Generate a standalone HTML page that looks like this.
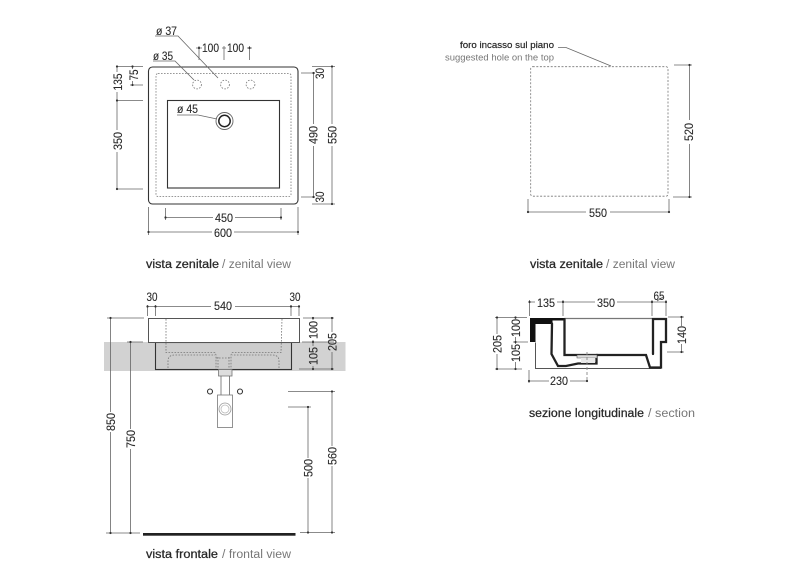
<!DOCTYPE html>
<html><head><meta charset="utf-8"><style>
html,body{margin:0;padding:0;background:#fff}
svg{display:block}
text{font-family:"Liberation Sans",sans-serif;font-size:12px;fill:#2a2a2a;text-anchor:middle;stroke:#2a2a2a;stroke-width:.12}
.b{text-anchor:start;stroke:#222;stroke-width:.25;font-size:11.5px}
.g{text-anchor:start;fill:#777;stroke:none;font-size:11.5px}
.d{fill:none;stroke:#666;stroke-width:.8}
.p{fill:none;stroke:#222;stroke-width:2.3;stroke-linecap:round}
.o{fill:none;stroke:#333;stroke-width:1.1}
.t{fill:none;stroke:#777;stroke-width:.8;stroke-dasharray:1.6 1.4}
</style></head><body>
<svg width="800" height="588" viewBox="0 0 800 588" xmlns="http://www.w3.org/2000/svg">
<rect width="800" height="588" fill="#fff"/>

<!-- top-left view -->
<rect x="148.5" y="67" width="149.5" height="137" rx="4" fill="#fff" stroke="#333" stroke-width="1.1"/>
<rect x="156" y="73.5" width="135" height="123" rx="2" class="t" stroke-dasharray="2.4 1.8"/>
<rect x="167.5" y="100.5" width="112" height="87.5" fill="#fff" stroke="#333" stroke-width="1.1"/>
<circle cx="224.5" cy="121" r="8.5" fill="#fff" stroke="#666" stroke-width=".9"/>
<circle cx="224.5" cy="121" r="5.7" fill="#fff" stroke="#222" stroke-width="1.5"/>
<circle cx="197" cy="84.5" r="4.4" class="t"/><circle cx="225" cy="84.5" r="4.4" class="t"/><circle cx="250.5" cy="84.5" r="4.4" class="t"/>
<path class="d" d="M155 36H178L218 78M153 61H175L194 80M177 115H198L217 119M199 46V60M224 46V60M249.500 46V60M196 48H202M222 48H226M247 48H252"/>
<path class="d" d="M116 66.500H143M116 100.500H143M116 189H143M130 66.500H143M130 85H143M117 66.500V72M117 92V100.500V130M117 152V189M132.500 66.500V69M132.500 81V85"/>
<path class="d" d="M312 66.500H335M312 204H335M301 73H315M301 197H315M332 66.500V124M332 146V204M313.500 73V124M313.500 146V197"/>
<path class="d" d="M165.500 208V220M281 208V220M165.500 217.500H213M235 217.500H281M148.500 207V235M298 207V235M148.500 232H212M234 232H298"/>
<text x="166.500" y="35" textLength="21" lengthAdjust="spacingAndGlyphs">ø 37</text>
<text x="163" y="60" textLength="20" lengthAdjust="spacingAndGlyphs">ø 35</text>
<text x="187.500" y="113" textLength="21" lengthAdjust="spacingAndGlyphs">ø 45</text>
<text x="210.500" y="52" textLength="17" lengthAdjust="spacingAndGlyphs">100</text>
<text x="235.500" y="52" textLength="17" lengthAdjust="spacingAndGlyphs">100</text>
<text transform="translate(122,82) rotate(-90)" textLength="17" lengthAdjust="spacingAndGlyphs">135</text>
<text transform="translate(138,75) rotate(-90)" textLength="11" lengthAdjust="spacingAndGlyphs">75</text>
<text transform="translate(122,141) rotate(-90)" textLength="18" lengthAdjust="spacingAndGlyphs">350</text>
<text transform="translate(324,73.500) rotate(-90)" textLength="11" lengthAdjust="spacingAndGlyphs">30</text>
<text transform="translate(324,197) rotate(-90)" textLength="11" lengthAdjust="spacingAndGlyphs">30</text>
<text transform="translate(317.500,135) rotate(-90)" textLength="18" lengthAdjust="spacingAndGlyphs">490</text>
<text transform="translate(336.500,135) rotate(-90)" textLength="18" lengthAdjust="spacingAndGlyphs">550</text>
<text x="224" y="222" textLength="18" lengthAdjust="spacingAndGlyphs">450</text>
<text x="223" y="237" textLength="18" lengthAdjust="spacingAndGlyphs">600</text>
<text x="146" y="268" class="b" textLength="73" lengthAdjust="spacingAndGlyphs">vista zenitale</text>
<text x="222" y="268" class="g" textLength="69" lengthAdjust="spacingAndGlyphs">/ zenital view</text>

<!-- top-right view -->
<rect x="530.700" y="66.700" width="137.300" height="129.500" rx="2" fill="none" stroke="#777" stroke-width=".8" stroke-dasharray="2 1.6"/>
<path class="d" d="M558 47.500H566L611 66M674 65H692M673 197H692M689.500 65V120M689.500 144V197M528 199V213M669 199V213M528 212H586M610 212H670"/>
<text x="554" y="48" style="text-anchor:end;font-size:9.500px;stroke:#222;stroke-width:.2" textLength="94" lengthAdjust="spacingAndGlyphs">foro incasso sul piano</text>
<text x="554" y="60.500" style="text-anchor:end;font-size:9.500px;fill:#777;stroke:none" textLength="109" lengthAdjust="spacingAndGlyphs">suggested hole on the top</text>
<text transform="translate(693,132) rotate(-90)" textLength="18" lengthAdjust="spacingAndGlyphs">520</text>
<text x="598" y="217" textLength="18" lengthAdjust="spacingAndGlyphs">550</text>
<text x="530" y="268" class="b" textLength="73" lengthAdjust="spacingAndGlyphs">vista zenitale</text>
<text x="606" y="268" class="g" textLength="69" lengthAdjust="spacingAndGlyphs">/ zenital view</text>

<!-- frontal view -->
<rect x="104" y="342" width="241.500" height="29" fill="#d2d2d2"/>
<rect x="155.500" y="342.500" width="136" height="27" fill="#cdcdcd" stroke="#333" stroke-width="1.1"/>
<rect x="148.500" y="318.500" width="151" height="24" fill="#fff" stroke="#555" stroke-width="1"/>
<path class="t" d="M166 319V352.500H215L216 355V369M282 319L281 352.500H232L231 355V369M168 368V361Q168 355 175 355H215M279 368V361Q279 355 272 355H232M216 358H231M218 357V368M229 357V368"/>
<rect x="218.500" y="369.500" width="13.500" height="6.500" fill="#ddd" stroke="#777" stroke-width=".8"/>
<path d="M221 376V395M229.500 376V395" class="d"/>
<rect x="217.500" y="395" width="15" height="32.500" fill="#fff" stroke="#777" stroke-width=".8"/>
<circle cx="225" cy="409" r="6" fill="none" stroke="#999" stroke-width=".8"/><circle cx="225" cy="409" r="4" fill="none" stroke="#bbb" stroke-width=".8"/>
<circle cx="210" cy="391.500" r="2.500" class="o"/><circle cx="240" cy="391.500" r="2.500" class="o"/>
<rect x="143" y="533" width="152.500" height="2.700" fill="#222"/>
<path class="d" d="M147.500 305V316M155.500 305V316M291 305V316M299 305V316M147.500 306.500H155.500M156 306.500H211M235 306.500H291M291 306.500H299"/>
<path class="d" d="M107 318H144M127 342H143M106 533H140M110.500 318V412M110.500 432V533M130.500 342V429M130.500 449V533"/>
<path class="d" d="M303 318H334M302 342H334M299 369H334M332 318V332M332 352V369M313 318V320M313 340V346M313 366V369M288 391.500H335M288 407H311M300 532.500H335M332 391.500V446M332 466V532.500M308 407V458M308 478V532.500"/>
<text x="152" y="301" textLength="11" lengthAdjust="spacingAndGlyphs">30</text>
<text x="223" y="310" textLength="18" lengthAdjust="spacingAndGlyphs">540</text>
<text x="295" y="301" textLength="11" lengthAdjust="spacingAndGlyphs">30</text>
<text transform="translate(115,422) rotate(-90)" textLength="18" lengthAdjust="spacingAndGlyphs">850</text>
<text transform="translate(135,439) rotate(-90)" textLength="18" lengthAdjust="spacingAndGlyphs">750</text>
<text transform="translate(317.500,330) rotate(-90)" textLength="18" lengthAdjust="spacingAndGlyphs">100</text>
<text transform="translate(317.500,356) rotate(-90)" textLength="18" lengthAdjust="spacingAndGlyphs">105</text>
<text transform="translate(336.500,342) rotate(-90)" textLength="18" lengthAdjust="spacingAndGlyphs">205</text>
<text transform="translate(312.500,468) rotate(-90)" textLength="18" lengthAdjust="spacingAndGlyphs">500</text>
<text transform="translate(336.500,456) rotate(-90)" textLength="18" lengthAdjust="spacingAndGlyphs">560</text>
<text x="146" y="558" class="b" textLength="72" lengthAdjust="spacingAndGlyphs">vista frontale</text>
<text x="222" y="558" class="g" textLength="69" lengthAdjust="spacingAndGlyphs">/ frontal view</text>

<!-- section -->
<path d="M535.500 342.500V368.500H661" fill="none" stroke="#555" stroke-width="1"/>
<path d="M565 318.500H652" fill="none" stroke="#777" stroke-width="1.2"/>
<path d="M530 318H565V320.500H552.500V324H535.500V342H530Z" fill="#111"/>
<path class="p" d="M552 323.500L551.500 354L558 366H566L578 363.500H596.500V355H564.500V319"/>
<path class="p" d="M596.500 355H646L650 367.500H661V342H666V319H653V354"/>
<path d="M577 355H597V358H577Z" fill="#ddd" stroke="#555" stroke-width=".6"/>
<rect x="581" y="358" width="14" height="5" fill="#e8e8e8"/>
<path d="M587 352V380" stroke="#888" stroke-width=".9" stroke-dasharray="3 2" fill="none"/>
<path class="d" d="M529.500 300V316M563 300V316M652 300V316M666 300V316M529.500 302H535M557 302H563M563 302H595M617 302H652M652 302H666M657 301L663 297"/>
<path class="d" d="M495 317.500H527M513 342H528M495 369H522M497 317.500V334M497 354V369M515.500 317.500V319M515.500 337V344M515.500 362V369M668 317H684M667 352H684M681.500 317V326M681.500 344V352M529 370V383M529 381H549M570 381H587"/>
<text x="546" y="307" textLength="18" lengthAdjust="spacingAndGlyphs">135</text>
<text x="606" y="307" textLength="18" lengthAdjust="spacingAndGlyphs">350</text>
<text x="659" y="300" textLength="11" lengthAdjust="spacingAndGlyphs">65</text>
<text transform="translate(501.500,344) rotate(-90)" textLength="18" lengthAdjust="spacingAndGlyphs">205</text>
<text transform="translate(520,328) rotate(-90)" textLength="18" lengthAdjust="spacingAndGlyphs">100</text>
<text transform="translate(520,353) rotate(-90)" textLength="18" lengthAdjust="spacingAndGlyphs">105</text>
<text transform="translate(686,335) rotate(-90)" textLength="18" lengthAdjust="spacingAndGlyphs">140</text>
<text x="559" y="385" textLength="18" lengthAdjust="spacingAndGlyphs">230</text>
<text x="529" y="417" class="b" textLength="115" lengthAdjust="spacingAndGlyphs">sezione longitudinale</text>
<text x="648" y="417" class="g" textLength="47" lengthAdjust="spacingAndGlyphs">/ section</text>

<!-- dimension end dots -->
<path fill="none" stroke="#333" stroke-width="2.200" stroke-linecap="round" d="M117 66.500h0M117 100.500h0M117 189h0M132.500 66.500h0M132.500 85h0M332 66.500h0M332 204h0M313.500 73h0M313.500 197h0M165.500 217.500h0M281 217.500h0M148.500 232h0M298 232h0M199 48h0M249.500 48h0M689.500 65h0M689.500 197h0M528 212h0M669 212h0M147.500 306.500h0M155.500 306.500h0M291 306.500h0M299 306.500h0M110.500 318h0M130.500 342h0M110.500 533h0M130.500 533h0M313 318h0M332 318h0M313 342h0M313 369h0M332 369h0M332 391.500h0M308 407h0M308 532.500h0M332 532.500h0M529.500 302h0M563 302h0M652 302h0M666 302h0M497 317.500h0M515.500 317.500h0M515.500 342h0M497 369h0M515.500 369h0M681.500 317h0M681.500 352h0M529 381h0M587 381h0"/>
</svg>
</body></html>
